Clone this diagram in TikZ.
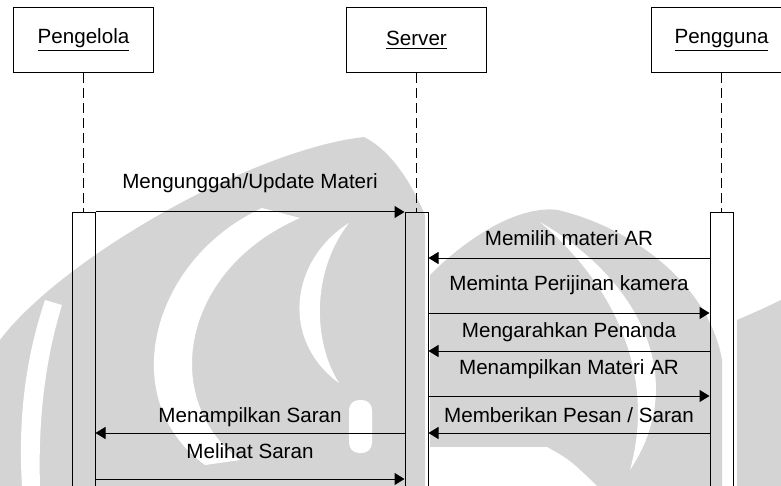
\documentclass[tikz,border=0pt]{standalone}
\usepackage{fontspec}
\setmainfont{Liberation Sans}
\usetikzlibrary{arrows.meta}

\begin{document}
\begin{tikzpicture}[
    x=0.5pt, y=-0.5pt, % one unit = one pixel of the layout, y going down
    >={Triangle[length=5pt,width=6pt]},
    font=\fontsize{10.3}{12}\selectfont,
    wm/.style={fill=black!17},
    actor/.style={
        draw,
        line width=0.5pt,
        minimum width=70pt,
        minimum height=32.5pt,
        inner sep=0pt
    },
    bar/.style={
        draw,
        line width=0.5pt,
        minimum width=11.5pt,
        minimum height=140pt,
        anchor=north,
        inner sep=0pt
    },
    life/.style={line width=0.5pt, dash pattern=on 5pt off 2.5pt},
    msg/.style={->, line width=0.5pt},
    lbl/.style={inner sep=0pt, anchor=base}
]
\clip (0,0) rectangle (781,486);
\useasboundingbox (0,0) rectangle (781,486);

% --- WATERMARK ---
\fill[wm] (0,486) -- (0,340) .. controls (60,260) and (250,150) .. (364,137)
    .. controls (390,150) and (410,180) .. (425,215) -- (425,486) -- cycle;
\fill[wm] (430,275) .. controls (470,235) and (520,205) .. (558,210)
    .. controls (640,230) and (710,290) .. (722,360) -- (722,486) -- (430,486) -- cycle;
\fill[wm] (737,320) .. controls (760,310) .. (781,300) -- (781,486) -- (737,486) -- cycle;
\fill[white] (45,300) .. controls (25,360) and (18,420) .. (22,486) -- (40,486)
    .. controls (38,420) and (45,360) .. (62,305) -- cycle;
\fill[white] (262,208) .. controls (150,260) and (115,400) .. (205,465)
    -- (240,460) .. controls (160,400) and (180,270) .. (300,218) -- cycle;
\fill[white] (349,223) .. controls (290,260) and (280,340) .. (339,383)
    .. controls (312,340) and (312,270) .. (349,223) -- cycle;
\fill[white, rounded corners=5pt] (349,400) rectangle (372,453);
\fill[white] (540,222) .. controls (640,280) and (690,380) .. (630,470)
    .. controls (655,380) and (620,290) .. (540,222) -- cycle;
\fill[white] (430,447) -- (547,447) .. controls (570,460) .. (597,486) -- (430,486) -- cycle;

% --- NODES ---
\node[actor] (pengelola) at (83.5,40.5) {\underline{Pengelola}};
\node[actor] (server) at (416.5,40.5) {\underline{Server}};
\node[actor] (pengguna) at (721.5,40.5) {\underline{Pengguna}};

\node[bar] (barA) at (83.5,212) {};
\node[bar] (barS) at (416.5,212) {};
\node[bar] (barP) at (721.5,212) {};

\coordinate (y1) at (0,212);
\coordinate (y2) at (0,258);
\coordinate (y3) at (0,313);
\coordinate (y4) at (0,351);
\coordinate (y5) at (0,396);
\coordinate (y6) at (0,433);
\coordinate (y7) at (0,479);

% --- LIFELINES ---
\draw[life] (pengelola.south) -- (barA.north);
\draw[life] (server.south) -- (barS.north);
\draw[life] (pengguna.south) -- (barP.north);

% --- MESSAGES ---
\draw[msg] (barA.east |- y1) -- node[lbl, yshift=11.5pt] (l1) {Mengunggah/Update Materi} (barS.west |- y1);
\draw[msg] (barP.west |- y2) -- node[lbl, yshift=6.5pt] (l2) {Memilih materi AR} (barS.east |- y2);
\draw[msg] (barS.east |- y3) -- node[lbl, yshift=11pt] (l3) {Meminta Perijinan kamera} (barP.west |- y3);
\draw[msg] (barP.west |- y4) -- node[lbl, yshift=7pt] (l4) {Mengarahkan Penanda} (barS.east |- y4);
\draw[msg] (barS.east |- y5) -- node[lbl, yshift=11pt] (l5) {Menampilkan Materi AR} (barP.west |- y5);
\draw[msg] (barP.west |- y6) -- node[lbl, yshift=5.5pt] (l6) {Memberikan Pesan / Saran} (barS.east |- y6);
\draw[msg] (barS.west |- y6) -- node[lbl, yshift=5.5pt] (l7) {Menampilkan Saran} (barA.east |- y6);
\draw[msg] (barA.east |- y7) -- node[lbl, yshift=10.5pt] (l8) {Melihat Saran} (barS.west |- y7);

\end{tikzpicture}
\end{document}
